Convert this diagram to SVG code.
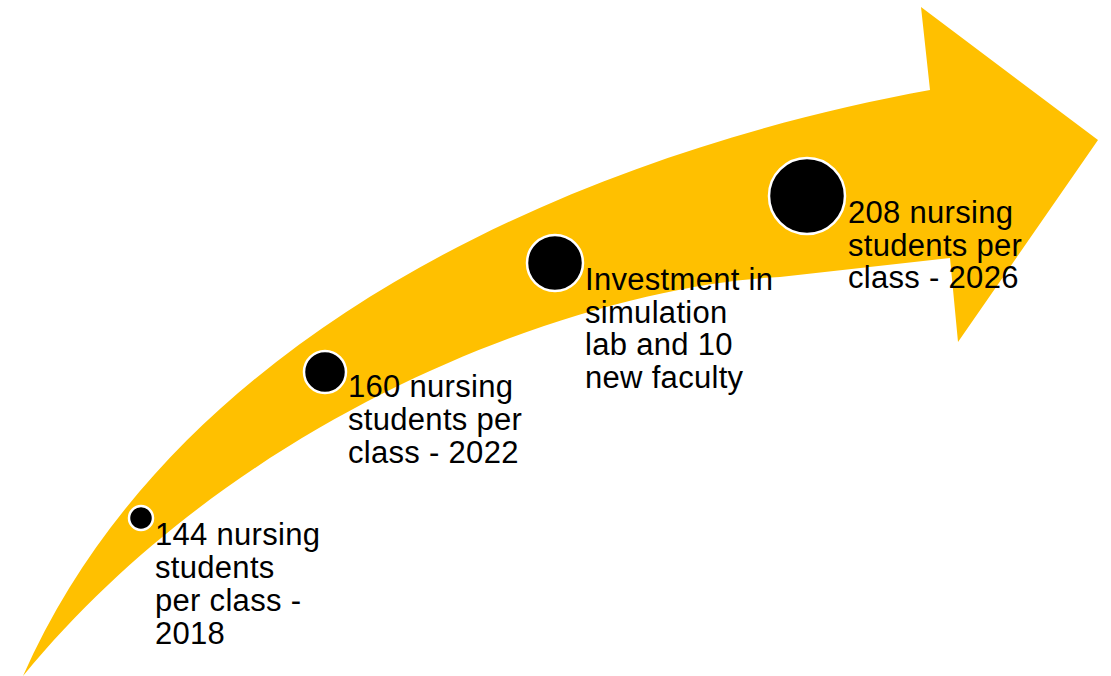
<svg xmlns="http://www.w3.org/2000/svg" width="1111" height="676" viewBox="0 0 1111 676">
<style>
.lbl{font-family:"Liberation Sans",Arial,sans-serif;font-size:31px;letter-spacing:0.3px;fill:#000}
.dot{fill:#000;stroke:#fff;stroke-width:2.5}
</style>
<rect width="1111" height="676" fill="#fff"/>
<g id="arrow">
<path d="M 23 676 C 180 320, 600 150, 930 90 L 921 7 L 1098 140 L 958 342 L 950 258 L 780 277 C 600 285, 250 400, 23 676 Z" fill="#FFC000"/>
</g>
<g id="n1">
<circle class="dot" cx="141" cy="518" r="12"/>
<text class="lbl" x="155" y="545"><tspan x="155">144 nursing</tspan><tspan x="155" dy="33">students</tspan><tspan x="155" dy="33">per class -</tspan><tspan x="155" dy="33">2018</tspan></text>
</g>
<g id="n2">
<circle class="dot" cx="325" cy="372" r="21"/>
<text class="lbl" x="348" y="397"><tspan x="348">160 nursing</tspan><tspan x="348" dy="33">students per</tspan><tspan x="348" dy="33">class - 2022</tspan></text>
</g>
<g id="n3">
<circle class="dot" cx="555" cy="263" r="28"/>
<text class="lbl" x="585" y="290"><tspan x="585">Investment in</tspan><tspan x="585" dy="32.5">simulation</tspan><tspan x="585" dy="32.5">lab and 10</tspan><tspan x="585" dy="32.5">new faculty</tspan></text>
</g>
<g id="n4">
<circle class="dot" cx="807" cy="196" r="38"/>
<text class="lbl" x="848" y="223"><tspan x="848">208 nursing</tspan><tspan x="848" dy="32.5">students per</tspan><tspan x="848" dy="32.5">class - 2026</tspan></text>
</g>
<g id="connectors"/>
</svg>
